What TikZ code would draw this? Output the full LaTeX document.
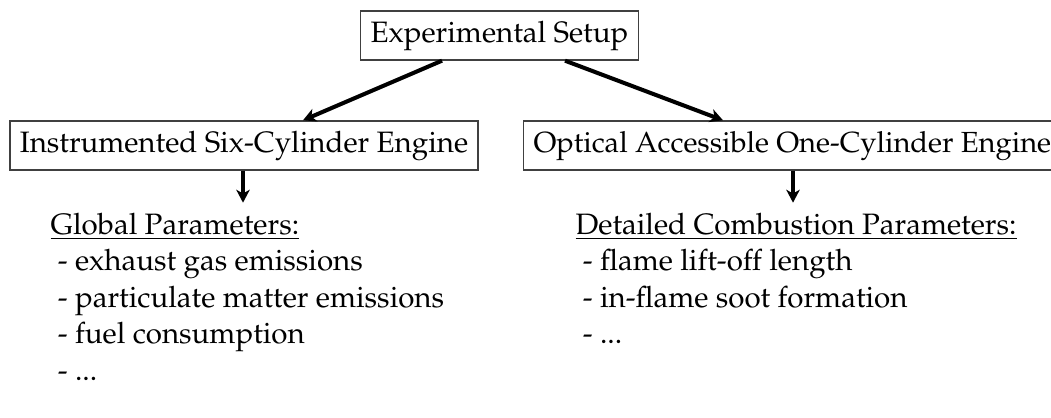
\documentclass[tikz,border=0pt]{standalone}
\usepackage[T1]{fontenc}
\usepackage{mathpazo}
\usetikzlibrary{arrows.meta,calc}
\begin{document}
\begin{tikzpicture}[x=0.3712pt,y=-0.3712pt,
  box/.style={draw=black!75,line width=0.5pt,inner xsep=3.65pt,inner ysep=3.6pt,text height=8pt,text depth=3pt,font=\fontsize{10.95}{13.6}\selectfont},
  txt/.style={anchor=base west,inner sep=0pt,font=\fontsize{10.95}{13.6}\selectfont},
  bigarrow/.style={line width=1.5pt,-{Stealth[length=4.8pt,width=5pt,inset=1.4pt]}},
  smallarrow/.style={line width=1.2pt,-{Stealth[length=4.8pt,width=5pt,inset=1.4pt]}}]
\clip (0,0) rectangle (1051,418);
\useasboundingbox (0,0) rectangle (1051,418);

\node[box] (top) at (499.5,35.5) {Experimental Setup};
\node[box] (left) at (244,145.5) {Instrumented Six-Cylinder Engine};
\node[box,anchor=west,font=\fontsize{10.8}{13.4}\selectfont] (right) at (523,145.5) {Optical Accessible One-Cylinder Engine};

\coordinate (ts1) at ($(top.south)+(-57.5,0)$);
\coordinate (ts2) at ($(top.south)+(65.5,0)$);
\coordinate (ln) at ($(left.north)+(59,0)$);
\coordinate (rn) at ($(right.north west)+(200,0)$);
\draw[bigarrow] (ts1) -- (ln);
\draw[bigarrow] (ts2) -- (rn);

\coordinate (ls) at ($(left.south)+(-1,0)$);
\coordinate (lt) at ($(ls)+(0,32)$);
\coordinate (rs) at ($(right.south west)+(270,0)$);
\coordinate (rt) at ($(rs)+(0,32)$);
\draw[smallarrow] (ls) -- (lt);
\draw[smallarrow] (rs) -- (rt);

\node[txt] (g0) at (50,234) {\underline{Global Parameters:}};
\node[txt] (g1) at (50,270.5) {\ - exhaust gas emissions};
\node[txt] (g2) at (50,307) {\ - particulate matter emissions};
\node[txt] (g3) at (50,343.5) {\ - fuel consumption};
\node[txt] (g4) at (50,380) {\ - ...};

\node[txt] (d0) at (575,234) {\underline{Detailed Combustion Parameters:}};
\node[txt] (d1) at (575,270.5) {\ - flame lift-off length};
\node[txt] (d2) at (575,307) {\ - in-flame soot formation};
\node[txt] (d3) at (575,343.5) {\ - ...};
\end{tikzpicture}
\end{document}
